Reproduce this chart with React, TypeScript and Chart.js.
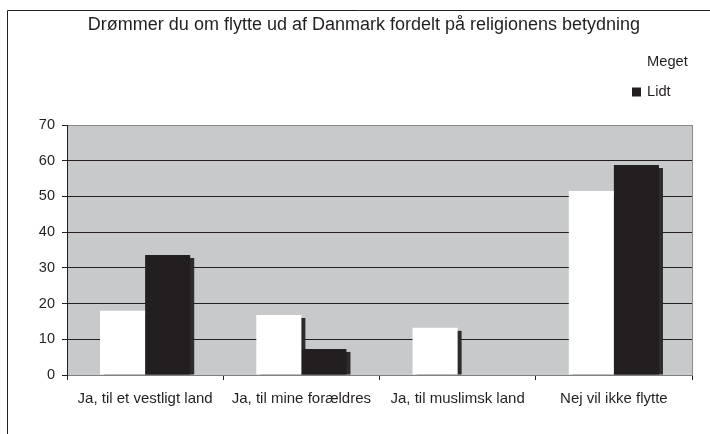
import React, { useEffect, useRef } from "react";
import { Chart, registerables } from "chart.js";

Chart.register(...registerables);

const TITLE = "Drømmer du om flytte ud af Danmark fordelt på religionens betydning";
const CATEGORIES = [
  "Ja, til et vestligt land",
  "Ja, til mine forældres",
  "Ja, til muslimsk land",
  "Nej vil ikke flytte",
];
const SERIES_NAMES = ["Meget", "Lidt"];
const MEGET = [18, 16.8, 13.2, 51.5];
const LIDT = [33.6, 7.3, 0, 58.8];
const Y_MIN = 0;
const Y_MAX = 70;
const Y_STEP = 10;

const FONT = '"Liberation Sans", Arial, sans-serif';
const INK = "#231f20";

const decorPlugin = {
  id: "decor",
  beforeDraw(chart: any) {
    const { ctx, chartArea } = chart;
    ctx.save();
    ctx.fillStyle = "#ffffff";
    ctx.fillRect(0, 0, chart.width, chart.height);
    ctx.fillStyle = "#c8c9cb";
    ctx.fillRect(chartArea.left, chartArea.top, chartArea.right - chartArea.left, chartArea.bottom - chartArea.top);
    ctx.strokeStyle = "#8a8a8a";
    ctx.lineWidth = 1;
    ctx.beginPath();
    ctx.moveTo(Math.round(chartArea.right) + 0.5, chartArea.top);
    ctx.lineTo(Math.round(chartArea.right) + 0.5, chartArea.bottom);
    ctx.stroke();
    // outer frame
    ctx.strokeStyle = INK;
    ctx.beginPath();
    ctx.moveTo(7.5, chart.height);
    ctx.lineTo(7.5, 10.5);
    ctx.lineTo(chart.width, 10.5);
    ctx.stroke();
    ctx.restore();
  },
  beforeDatasetsDraw(chart: any) {
    const { ctx, chartArea } = chart;
    ctx.save();
    ctx.beginPath();
    ctx.rect(chartArea.left, chartArea.top, chartArea.right - chartArea.left, chartArea.bottom - chartArea.top);
    ctx.clip();
    ctx.fillStyle = "#2e2b2c";
    chart.data.datasets.forEach((ds: any, i: number) => {
      const meta = chart.getDatasetMeta(i);
      meta.data.forEach((bar: any, j: number) => {
        if (!ds.data[j]) return;
        const p = bar.getProps(["x", "y", "base", "width"], true);
        const left = p.x - p.width / 2 + 4;
        ctx.fillRect(left, p.y + 3, p.width, p.base - p.y - 3);
      });
    });
    ctx.restore();
  },
  afterDraw(chart: any) {
    const { ctx } = chart;
    ctx.save();
    ctx.fillStyle = INK;
    ctx.font = `18px ${FONT}`;
    ctx.textAlign = "center";
    ctx.textBaseline = "middle";
    ctx.fillText(TITLE, 364, 25);
    // legend
    ctx.font = `14.7px ${FONT}`;
    ctx.textAlign = "left";
    chart.data.datasets.forEach((ds: any, i: number) => {
      const cy = 62 + i * 30;
      ctx.fillStyle = ds.backgroundColor;
      ctx.fillRect(632, cy - 4.5, 9, 9);
      ctx.fillStyle = INK;
      ctx.fillText(ds.label, 647, cy);
    });
    ctx.restore();
  },
};

export default function App() {
  const ref = useRef<HTMLCanvasElement | null>(null);
  useEffect(() => {
    if (!ref.current) return;
    const chart = new Chart(ref.current, {
      type: "bar",
      data: {
        labels: CATEGORIES,
        datasets: [
          { label: SERIES_NAMES[0], data: MEGET, backgroundColor: "#ffffff", borderWidth: 0 },
          { label: SERIES_NAMES[1], data: LIDT, backgroundColor: INK, borderWidth: 0 },
        ],
      },
      options: {
        responsive: false,
        animation: false,
        devicePixelRatio: 1,
        layout: { padding: { top: 125, right: 18, left: 0, bottom: 0 } },
        datasets: { bar: { categoryPercentage: 0.577, barPercentage: 1 } },
        plugins: { legend: { display: false }, title: { display: false }, tooltip: { enabled: false } },
        scales: {
          x: {
            afterFit: (s: any) => { s.height = 59; },
            grid: { display: true, drawOnChartArea: false, drawTicks: true, tickLength: 5, color: INK, offset: true },
            border: { display: true, color: "#808080" },
            ticks: { color: INK, font: { family: FONT, size: 15 }, padding: 10 },
          },
          y: {
            min: Y_MIN,
            max: Y_MAX,
            afterFit: (s: any) => { s.width = 67; },
            grid: {
              color: (c: any) => (c.tick && (c.tick.value === Y_MAX || c.tick.value === Y_MIN) ? "#8a8a8a" : INK),
              tickColor: INK,
              tickLength: 5,
            },
            border: { display: true, color: INK },
            ticks: { stepSize: Y_STEP, color: INK, font: { family: FONT, size: 14.5 }, padding: 7 },
          },
        },
      },
      plugins: [decorPlugin],
    } as any);
    return () => chart.destroy();
  }, []);
  return (
    <div style={{ position: "fixed", left: 0, top: 0, width: 710, height: 434 }}>
      <canvas ref={ref} width={710} height={434} />
    </div>
  );
}
